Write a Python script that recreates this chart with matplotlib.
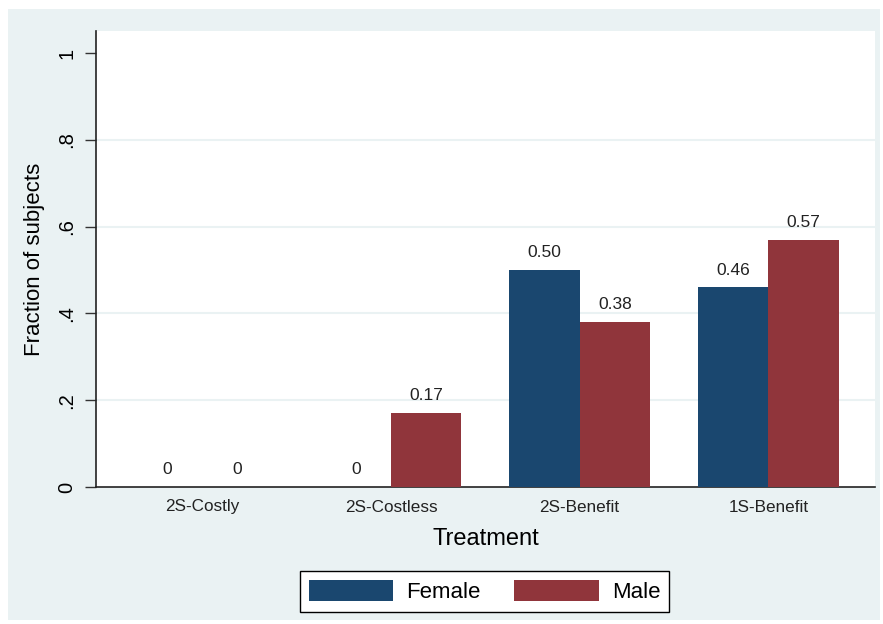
import matplotlib
matplotlib.use("Agg")
import matplotlib.pyplot as plt
from matplotlib.patches import Rectangle
import numpy as np

categories = ["2S-Costly", "2S-Costless", "2S-Benefit", "1S-Benefit"]
female = [0.0, 0.0, 0.50, 0.46]
male = [0.0, 0.17, 0.38, 0.57]
female_labels = ["0", "0", "0.50", "0.46"]
male_labels = ["0", "0.17", "0.38", "0.57"]
yticks = [0, 0.2, 0.4, 0.6, 0.8, 1.0]
yticklabels = ["0", ".2", ".4", ".6", ".8", "1"]

C_F = "#1A476F"
C_M = "#90353B"
BG = "#EAF2F3"

plt.rcParams['font.family'] = ['Liberation Sans', 'DejaVu Sans']

W, H = 883, 624
fig = plt.figure(figsize=(W / 100, H / 100), dpi=100)
fig.patch.set_facecolor("white")
fig.patches.append(Rectangle((8 / W, 1 - 620 / H), (880 - 8) / W, (620 - 9) / H,
                             transform=fig.transFigure, facecolor=BG, edgecolor="none", zorder=-10))

ax = fig.add_axes([96 / W, 1 - 487 / H, (875 - 96) / W, (487 - 31) / H])
ax.set_facecolor("white")

x = np.arange(len(categories))
bw = 0.372
bf = ax.bar(x - bw / 2, female, bw, color=C_F, label="Female", zorder=3)
bm = ax.bar(x + bw / 2, male, bw, color=C_M, label="Male", zorder=3)

for xi, v, lab in zip(x - bw / 2, female, female_labels):
    ax.annotate(lab, (xi, v), xytext=(0, 7), textcoords="offset points",
                ha="center", va="bottom", fontsize=12.5, color="#222222")
for xi, v, lab in zip(x + bw / 2, male, male_labels):
    ax.annotate(lab, (xi, v), xytext=(0, 7), textcoords="offset points",
                ha="center", va="bottom", fontsize=12.5, color="#222222")

ax.set_xlim(-0.563, 3.565)
ax.set_ylim(0, 1.0507)
ax.set_yticks(yticks)
ax.set_yticklabels(yticklabels, rotation=90, va="center", fontsize=14.5)
for t in yticks[1:-1]:
    ax.axhline(t, color=BG, lw=1.5, zorder=1)

ax.set_xticks(x)
ax.set_xticklabels(categories, fontsize=12.3, color="#222222")
ax.tick_params(axis="x", length=0, pad=9)
ax.tick_params(axis="y", length=8, width=1, color="#333333", pad=6)

for s in ["top", "right"]:
    ax.spines[s].set_visible(False)
for s in ["left", "bottom"]:
    ax.spines[s].set_color("#222222")
    ax.spines[s].set_linewidth(1.2)

ax.set_ylabel("Fraction of subjects", fontsize=16, labelpad=9)
ax.set_xlabel("Treatment", fontsize=17, labelpad=10)

leg = ax.legend(loc="center", bbox_to_anchor=(484.5 / W, 1 - 591.5 / H),
                bbox_transform=fig.transFigure, ncol=2, fontsize=16,
                frameon=True, fancybox=False, edgecolor="black", facecolor="white",
                framealpha=1, handlelength=3.8, handleheight=1.05,
                handletextpad=0.6, columnspacing=1.5, borderpad=0.4)
leg.get_frame().set_linewidth(1.0)

fig.savefig("out.png", dpi=100, facecolor=fig.get_facecolor())
